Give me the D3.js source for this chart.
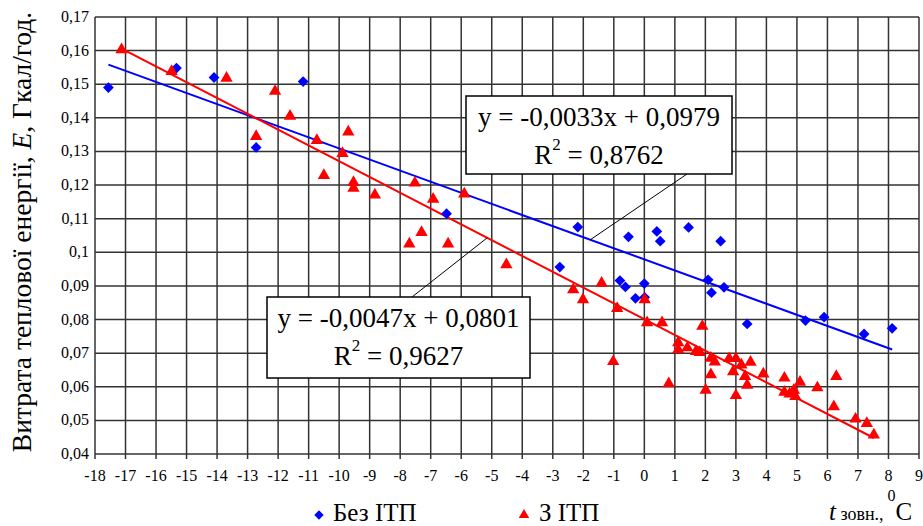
<!DOCTYPE html>
<html>
<head>
<meta charset="utf-8">
<script src="https://cdn.jsdelivr.net/npm/d3@7"></script>
<style>
  body { margin: 0; background: #fff; overflow: hidden; }
  text { font-family: "Liberation Serif", "Times New Roman", serif; }
</style>
</head>
<body>
<script>
const width = 923, height = 526

// Без ІТП (blue diamonds)
const bezX = [-17.56, -15.33, -14.10, -12.72, -11.18, -6.48, -2.77, -2.18, -0.80, -0.62,
  -0.52, -0.29, 0.00, 0.01, 0.41, 0.52, 1.45, 2.09, 2.20, 2.50, 2.61, 3.37, 5.28, 5.89, 7.20, 8.12]
const bezY = [0.1490, 0.1548, 0.1520, 0.1312, 0.1508, 0.1115, 0.0956, 0.1075, 0.0916, 0.0897,
  0.1046, 0.0863, 0.0907, 0.0866, 0.1062, 0.1033, 0.1074, 0.0918, 0.0880, 0.1033, 0.0896, 0.0787, 0.0797, 0.0807, 0.0757, 0.0774]

// З ІТП (red triangles)
const zX = [-17.13, -15.49, -13.69, -12.10, -12.72, -11.61, -10.73, -9.70, -9.89, -10.50,
  -9.53, -9.53, -8.83, -7.52, -7.30, -7.70, -6.92, -6.43, -5.90, -4.52,
  -2.33, -2.01, -1.40, -0.89, -1.02, 0.01, 0.09, 0.58, 0.80, 1.11,
  1.11, 1.41, 1.69, 1.82, 1.90, 2.01, 2.18, 2.18, 2.31, 2.78,
  3.00, 2.91, 3.00, 3.18, 3.30, 3.37, 3.48, 3.90, 4.59, 4.59,
  4.76, 4.90, 4.95, 5.10, 5.67, 6.29, 6.21, 6.92, 7.29, 7.52]
const zY = [0.1603, 0.1538, 0.1518, 0.1479, 0.1345, 0.1405, 0.1333, 0.1358, 0.1294, 0.1229,
  0.1208, 0.1191, 0.1171, 0.1206, 0.1059, 0.1025, 0.1158, 0.1025, 0.1174, 0.0963,
  0.0889, 0.0859, 0.0908, 0.0833, 0.0675, 0.0859, 0.0791, 0.0791, 0.0609, 0.0731,
  0.0710, 0.0716, 0.0705, 0.0702, 0.0780, 0.0590, 0.0636, 0.0685, 0.0674, 0.0684,
  0.0684, 0.0645, 0.0574, 0.0665, 0.0631, 0.0605, 0.0673, 0.0638, 0.0626, 0.0584,
  0.0579, 0.0590, 0.0571, 0.0614, 0.0597, 0.0631, 0.0541, 0.0504, 0.0491, 0.0457]

// trend lines: slope, intercept, R²
const bezTrend = [-0.0033, 0.0979, 0.8762]
const zTrend = [-0.0047, 0.0801, 0.9627]

const xTicks = d3.range(-18, 10)
const yTicks = d3.range(4, 18).map(d => d / 100)

const pLeft = 95, pRight = 919, pTop = 17, pBottom = 454

let svg = d3.select("body")
    .append("svg")
    .attr("width", width)
    .attr("height", height)
    .style("display", "block")

const x = d3.scaleLinear().domain([-18, 9]).range([pLeft, pRight])
const y = d3.scaleLinear().domain([0.04, 0.17]).range([pBottom, pTop])

const comma = (d) => d3.format("")(+d.toFixed(2)).replace(".", ",")
const comma4 = (v) => d3.format(".4f")(v).replace("−", "-").replace(".", ",")

// grid
let grid = svg.append("g")
grid.selectAll(".vg").data(xTicks).join("line")
    .attr("x1", d => x(d)).attr("x2", d => x(d))
    .attr("y1", pTop).attr("y2", pBottom + 5)
    .attr("stroke", "#333").attr("stroke-width", 1.5)
grid.selectAll(".hg").data(yTicks).join("line")
    .attr("x1", pLeft).attr("x2", pRight)
    .attr("y1", d => y(d)).attr("y2", d => y(d))
    .attr("stroke", "#333").attr("stroke-width", 1.5)

// tick labels
svg.append("g").selectAll("text").data(yTicks).join("text")
    .attr("x", 89).attr("y", d => y(d) + 5)
    .attr("text-anchor", "end")
    .attr("font-size", 16)
    .text(comma)
svg.append("g").selectAll("text").data(xTicks).join("text")
    .attr("x", d => x(d)).attr("y", 481)
    .attr("text-anchor", "middle")
    .attr("font-size", 16)
    .text(d => d)

// y axis title
svg.append("text")
    .attr("transform", "translate(31,232) rotate(-90)")
    .attr("text-anchor", "middle")
    .attr("font-size", 27.5)
    .html('Витрата теплової енергії, <tspan font-style="italic">E</tspan>, Гкал/год.')

// trend lines
const trend = (t, xs) => [d3.min(xs), d3.max(xs)].map(v => [x(v), y(t[0] * v + t[1])])
svg.append("path").attr("d", d3.line()(trend(bezTrend, bezX)))
    .attr("stroke", "#0000ff").attr("stroke-width", 2).attr("fill", "none")
svg.append("path").attr("d", d3.line()(trend(zTrend, zX)))
    .attr("stroke", "#ff0000").attr("stroke-width", 2).attr("fill", "none")

// points
const diamond = d3.symbol().type(d3.symbolSquare).size(58)
const triangle = d3.symbol().type(d3.symbolTriangle).size(66)
svg.append("g").selectAll("path").data(bezX).join("path")
    .attr("d", diamond)
    .attr("transform", (d, i) => `translate(${x(d)},${y(bezY[i])}) rotate(45)`)
    .attr("fill", "#0000ff")
svg.append("g").selectAll("path").data(zX).join("path")
    .attr("d", triangle)
    .attr("transform", (d, i) => `translate(${x(d)},${y(zY[i])})`)
    .attr("fill", "#ff0000")

// equation labels with leader lines
const eq = (t, bx, by, bw, bh, ax, lx, ly) => {
    let g = svg.append("g")
    g.append("line")
        .attr("x1", lx).attr("y1", ly)
        .attr("x2", x(ax)).attr("y2", y(t[0] * ax + t[1]))
        .attr("stroke", "#000").attr("stroke-width", 1)
    g.append("rect")
        .attr("x", bx).attr("y", by).attr("width", bw).attr("height", bh)
        .attr("fill", "#fff").attr("stroke", "#000").attr("stroke-width", 1.5)
    g.append("text")
        .attr("x", bx + bw / 2).attr("y", by + 30)
        .attr("text-anchor", "middle").attr("font-size", 27)
        .text(`y = ${comma4(t[0])}x + ${comma4(t[1])}`)
    g.append("text")
        .attr("x", bx + bw / 2).attr("y", by + 68)
        .attr("text-anchor", "middle").attr("font-size", 27)
        .html(`R<tspan dy="-14" font-size="17">2</tspan><tspan dy="14"> = ${comma4(t[2])}</tspan>`)
}

eq(bezTrend, 466, 96, 266, 78, -1.77, 687, 174)
eq(zTrend, 267, 297, 263, 81, -5.15, 412, 297)

// legend
svg.append("path").attr("d", d3.symbol().type(d3.symbolSquare).size(44))
    .attr("transform", "translate(319,515) rotate(45)").attr("fill", "#0000ff")
svg.append("text").attr("x", 333).attr("y", 521).attr("font-size", 25).text("Без ІТП")
svg.append("path").attr("d", d3.symbol().type(d3.symbolTriangle).size(48))
    .attr("transform", "translate(524,515)").attr("fill", "#ff0000")
svg.append("text").attr("x", 539).attr("y", 521).attr("font-size", 25).text("З ІТП")

// x axis title
svg.append("text").attr("x", 829).attr("y", 520).attr("font-size", 25)
    .html('<tspan font-style="italic">t</tspan><tspan font-size="18"> зовн.,</tspan><tspan dy="-19" font-size="16"> 0</tspan><tspan dy="19">C</tspan>')
</script>
</body>
</html>
